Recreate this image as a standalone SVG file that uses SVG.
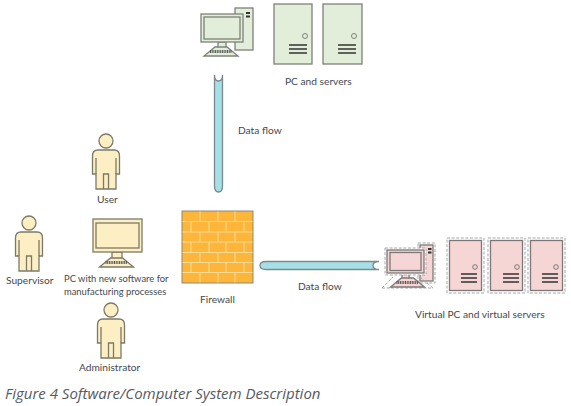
<svg xmlns="http://www.w3.org/2000/svg" width="571" height="406" viewBox="0 0 571 406">
<style>
text{font-family:Lato,"Open Sans","Liberation Sans",sans-serif;font-size:10.200px;fill:#44494f}
.sm{font-size:9.400px}
.cap{font-family:"Open Sans","Noto Sans",sans-serif;font-size:15px;font-style:italic;fill:#555a60}
.g{fill:#e2eeda;stroke:#7d8279;stroke-width:1.300}
.y{fill:#fdeec4;stroke:#7b7a68;stroke-width:1.300}
.r{fill:#f5d6d5;stroke:#7d7878;stroke-width:1.300}
.d{fill:none;stroke:#a5a5a5;stroke-width:1;stroke-dasharray:3 1.600}
.bar{stroke:#333;stroke-width:1.400}
.pipe{fill:#a6e0e6;stroke:#7b8a8c;stroke-width:1.300}
.br{stroke:#fbdc96;stroke-width:1;fill:none}
</style>
<defs>
<g id="person" class="y">
<circle cx="0" cy="0" r="7"/>
<path d="M-8 9H8Q13.500 9 13.500 15V33H10V48H-10V33H-13.500V15Q-13.500 9 -8 9Z"/>
<path d="M-10 17V33M10 17V33M-2.500 48V33H2.500V48" fill="none"/>
</g>
<g id="kb"><path d="M-6 0H6L17 9H-17Z"/><path d="M-11 4.500H11" fill="none" stroke="#555" stroke-width="3" stroke-dasharray="1 .7"/></g>
</defs>
<g id="connectors">
<path id="flow-top" class="pipe" d="M214.500 75Q214.500 81 218.500 81Q222.500 81 222.500 75V186Q222.500 192 218.500 192Q214.500 192 214.500 186Z"/>
<path id="flow-bottom" class="pipe" d="M379 261.500Q373 261.500 373 265.500Q373 269.500 379 269.500H266Q260 269.500 260 265.500Q260 261.500 266 261.500Z"/>
</g>
<g id="pc-top">
<rect class="g" x="235" y="8" width="18" height="42"/>
<rect x="246" y="12" width="4" height="2" fill="#333"/><rect x="246" y="15.500" width="4" height="2" fill="#333"/>
<rect class="g" x="218" y="42" width="8" height="7"/>
<rect class="g" x="201" y="14" width="42" height="28"/>
<rect class="g" x="204" y="17" width="36" height="22"/>
<use href="#kb" class="g" x="221" y="47"/>
</g>
<g id="server-top-1">
<rect class="g" x="274" y="4" width="38" height="60"/>
<circle cx="305" cy="36" r="2.500" fill="none" stroke="#7d8279"/>
<path class="bar" d="M289 45H307M289 49H307M289 53H307"/>
</g>
<g id="server-top-2">
<rect class="g" x="323" y="4" width="39" height="60"/>
<circle cx="354" cy="36" r="2.500" fill="none" stroke="#7d8279"/>
<path class="bar" d="M338 45H356M338 49H356M338 53H356"/>
</g>
<text x="285" y="85">PC and servers</text>
<text x="238" y="134">Data flow</text>
<g id="user"><use href="#person" x="106" y="141"/><text x="97" y="203">User</text></g>
<g id="supervisor"><use href="#person" x="29" y="223"/><text x="6" y="284">Supervisor</text></g>
<g id="administrator"><use href="#person" x="111" y="310"/><text x="79" y="371">Administrator</text></g>
<g id="pc-new">
<rect class="y" x="112" y="252" width="10" height="7"/>
<rect class="y" x="93" y="219" width="49" height="33"/>
<rect class="y" x="96" y="223" width="43" height="25"/>
<use href="#kb" class="y" x="116.500" y="258"/>
<text class="sm" x="64" y="282">PC with new software for</text>
<text class="sm" x="64" y="295">manufacturing processes</text>
</g>
<g id="firewall">
<rect x="182" y="211" width="71" height="72" fill="#fdb53a" stroke="#8d8878" stroke-width="1"/>
<path class="br" d="M182.500 221.500H252.500M182.500 232H252.500M182.500 242H252.500M182.500 252.500H252.500M182.500 262.500H252.500M182.500 272.500H252.500"/>
<path class="br" d="M200 211.500V221.500M218 211.500V221.500M235 211.500V221.500M191 221.500V232M209 221.500V232M226 221.500V232M244 221.500V232M200 232V242M218 232V242M235 232V242M191 242V252.500M209 242V252.500M226 242V252.500M244 242V252.500M200 252.500V262.500M218 252.500V262.500M235 252.500V262.500M191 262.500V272.500M209 262.500V272.500M226 262.500V272.500M244 262.500V272.500M200 272.500V282.500M218 272.500V282.500M235 272.500V282.500"/>
<text x="200" y="303">Firewall</text>
</g>
<text x="298" y="290">Data flow</text>
<g id="pc-virtual">
<rect class="d" x="418" y="243" width="17" height="40"/>
<rect class="r" x="420" y="245" width="13" height="36" stroke-width="1"/>
<rect x="428" y="248" width="3.500" height="2" fill="#333"/><rect x="428" y="251.500" width="3.500" height="2" fill="#333"/>
<rect class="r" x="402" y="273" width="7" height="6"/>
<rect fill="#fff" x="385" y="248" width="41" height="27"/>
<rect class="d" x="385" y="248" width="41" height="27"/>
<rect class="r" x="387" y="250" width="37" height="23"/>
<rect class="r" x="390" y="252.500" width="31" height="18"/>
<path class="d" d="M382 288L393 277M420 277L433 288M382 288H433"/>
<use href="#kb" class="r" x="407.500" y="278"/>
</g>
<g id="server-virtual-1">
<rect class="d" x="447" y="238" width="37" height="55"/>
<rect class="r" x="449.500" y="240.500" width="32" height="50"/>
<circle cx="475" cy="267" r="2.300" fill="none" stroke="#7d7878"/>
<path class="bar" d="M461 274H477M461 278H477M461 282H477"/>
</g>
<g id="server-virtual-2">
<rect class="d" x="488" y="238" width="37" height="55"/>
<rect class="r" x="490.500" y="240.500" width="32" height="50"/>
<circle cx="517" cy="267" r="2.300" fill="none" stroke="#7d7878"/>
<path class="bar" d="M503 274H519M503 278H519M503 282H519"/>
</g>
<g id="server-virtual-3">
<rect class="d" x="528" y="238" width="37" height="55"/>
<rect class="r" x="530.500" y="240.500" width="32" height="50"/>
<circle cx="556" cy="267" r="2.300" fill="none" stroke="#7d7878"/>
<path class="bar" d="M542 274H558M542 278H558M542 282H558"/>
</g>
<text x="415" y="318">Virtual PC and virtual servers</text>
<text class="cap" x="5" y="399">Figure 4 Software/Computer System Description</text>
</svg>
